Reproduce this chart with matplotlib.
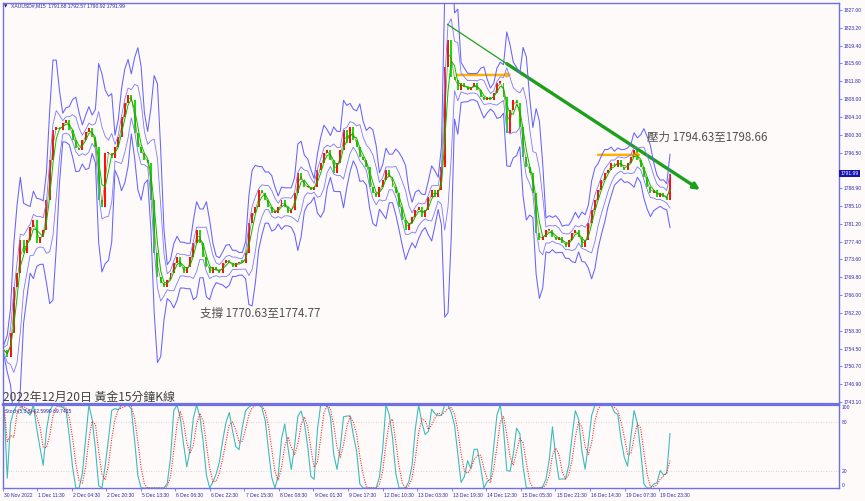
import matplotlib
matplotlib.use("Agg")
import matplotlib.pyplot as plt
import numpy as np
import pandas as pd
from matplotlib.patches import FancyArrowPatch
from matplotlib.transforms import blended_transform_factory, ScaledTranslation

# ---------------- data ----------------
close = [
    1754.2, 1752.7, 1757.9, 1767.7, 1770.7, 1777.8, 1775.0, 1777.8, 1780.6, 1782.1,
    1777.1, 1778.4, 1779.9, 1786.3, 1794.9, 1801.3, 1802.0, 1801.3, 1802.8, 1803.5,
    1801.3, 1799.2, 1797.5, 1797.0, 1799.2, 1800.9, 1801.7, 1799.8, 1797.7, 1786.3,
    1784.8, 1796.4, 1796.4, 1795.3, 1797.7, 1799.8, 1804.1, 1807.1, 1808.8, 1807.7,
    1800.7, 1797.7, 1796.4, 1794.9, 1794.3, 1786.3, 1775.0, 1769.9, 1768.6, 1767.7,
    1769.2, 1770.7, 1772.8, 1774.1, 1772.0, 1770.7, 1772.0, 1774.1, 1777.1, 1779.9,
    1777.1, 1774.1, 1772.0, 1770.7, 1772.0, 1771.3, 1770.7, 1772.8, 1773.5, 1772.8,
    1772.0, 1772.8, 1773.1, 1772.8, 1775.0, 1781.4, 1783.6, 1784.8, 1788.5, 1787.8,
    1786.3, 1784.8, 1783.6, 1783.6, 1784.8, 1786.3, 1784.8, 1783.6, 1784.2, 1787.8,
    1792.1, 1790.6, 1789.1, 1789.1, 1788.5, 1789.1, 1792.8, 1794.3, 1796.4, 1797.0,
    1794.9, 1792.1, 1794.3,
    1797.0, 1801.3, 1798.5, 1802.0, 1799.2, 1797.7, 1795.5, 1794.9, 1793.4, 1789.1,
    1787.8, 1787.0, 1789.1, 1790.6, 1792.8, 1791.3, 1789.1, 1787.8, 1784.8, 1782.1,
    1779.9, 1781.4, 1782.7, 1784.2, 1784.8, 1782.7, 1784.2, 1787.0, 1788.5, 1787.0,
    1788.5, 1793.4,
    1814.8, 1820.6,
    1812.7, 1812.0, 1809.9, 1811.4, 1810.5, 1809.9, 1810.5, 1811.4, 1809.9, 1808.4,
    1807.7, 1808.4, 1807.7, 1809.2, 1811.4, 1811.4, 1808.4,
    1800.7, 1805.6,
    1807.7, 1807.1, 1802.0, 1795.5, 1793.4, 1792.1, 1787.8,
    1779.3, 1777.8,
    1778.4, 1779.9, 1779.9, 1778.4, 1777.8, 1778.4, 1777.1, 1776.3, 1777.8, 1779.3,
    1779.9, 1778.4, 1776.3, 1777.8, 1781.4, 1784.2, 1786.3, 1788.5, 1790.6, 1792.1,
    1792.8, 1794.3, 1793.4, 1794.9, 1793.4, 1792.8, 1794.3, 1795.5, 1797.0, 1794.9,
    1793.4, 1791.3, 1789.1, 1787.8, 1788.5, 1787.0, 1787.8, 1787.0, 1786.3,
    1791.99,
]
first_open = 1754.0

price_ticks = [1827.00, 1823.20, 1819.40, 1815.60, 1811.80, 1808.00, 1804.10,
               1800.30, 1796.50, 1792.70, 1788.90, 1785.10, 1781.20, 1777.40,
               1773.60, 1769.80, 1766.00, 1762.20, 1758.30, 1754.50, 1750.70,
               1746.90, 1743.10]
stoch_ticks = [100, 80, 20, 0]
date_labels = ["30 Nov 2022", "1 Dec 11:30", "2 Dec 04:30", "2 Dec 20:30",
               "5 Dec 13:30", "6 Dec 06:30", "6 Dec 22:30", "7 Dec 15:30",
               "8 Dec 08:30", "9 Dec 01:30", "9 Dec 17:30", "12 Dec 10:30",
               "13 Dec 03:30", "13 Dec 19:30", "14 Dec 12:30", "15 Dec 05:30",
               "15 Dec 21:30", "16 Dec 14:30", "19 Dec 07:30", "19 Dec 23:30"]

header_text = "XAUUSD#,M15  1791.68 1792.57 1790.92 1791.99"
stoch_text = "Stoch(5,3,3) 62.5999 69.7425"
title_text = "2022年12月20日 黃金15分鐘K線"
support_text = "支撐 1770.63至1774.77"
resist_text = "壓力 1794.63至1798.66"
last_price = 1791.99

# annotations (index, price)
trend_start = (135.7, 1824.0)
trend_thick_start = (154.0, 1815.5)
trend_end = (213.2, 1788.5)
orange1 = ((138.7, 1813.1), (155.6, 1813.1))
orange2 = ((182.0, 1796.0), (195.3, 1796.0))
support_pos = (60.0, 1762.1)
resist_pos = (196.9, 1799.8)

# ---------------- derived ----------------
c = pd.Series(close)
o = c.shift(1).fillna(first_open)
n = len(c)
idx = np.arange(n)

bb_mid = c.rolling(4, min_periods=1).mean()
bb_sd = c.rolling(4, min_periods=1).std().fillna(0)
ma_fast = c.rolling(2, min_periods=1).mean()
ma_slow = c.rolling(3, min_periods=1).mean()

hi = pd.concat([c, o], axis=1).max(axis=1)
lo = pd.concat([c, o], axis=1).min(axis=1)
hh = hi.rolling(3, min_periods=1).max()
ll = lo.rolling(3, min_periods=1).min()
num = (c - ll).rolling(3, min_periods=1).sum()
den = (hh - ll).rolling(3, min_periods=1).sum().replace(0, np.nan)
k_line = (100 * num / den).fillna(50)
d_line = k_line.rolling(3, min_periods=1).mean()

# ---------------- figure ----------------
W, H = 865, 501
BG = "#fffafa"
FRAME = "#6f6fe6"
TXT = "#2a2ab0"
fig = plt.figure(figsize=(W / 100, H / 100), dpi=100, facecolor=BG)

px0, px1 = 3, 839
step = (670 - 4) / (n - 1)
def xi(px):
    return (px - 4) / step

ax = fig.add_axes([px0 / W, 1 - 404 / H, (px1 - px0) / W, (404 - 3) / H])
ax2 = fig.add_axes([px0 / W, 1 - 488 / H, (px1 - px0) / W, (488 - 405) / H])

for a in (ax, ax2):
    a.set_facecolor(BG)
    a.set_xlim(xi(px0), xi(px1))
    for s in a.spines.values():
        s.set_color(FRAME)
        s.set_linewidth(1.0)
ax.spines["bottom"].set_linewidth(1.6)
ax2.spines["top"].set_linewidth(1.6)

ax.set_ylim(1742.67, 1828.5)

# bollinger bands
ax.plot(idx, bb_mid + 2.6 * bb_sd + 1.2, color="#6464ff", lw=0.75)
ax.plot(idx, bb_mid - 2.6 * bb_sd - 1.2, color="#6464ff", lw=0.75)
ax.plot(idx, bb_mid + 1.2 * bb_sd + 0.6, color="#7a7aff", lw=0.6)
ax.plot(idx, bb_mid - 1.2 * bb_sd - 0.6, color="#7a7aff", lw=0.6)

# candles
up = c >= o
cols = np.where(up, "#ff1010", "#10e010")
heights = (c - o).values
heights = np.where(np.abs(heights) < 0.3, 0.3, heights)
ax.bar(idx, heights, bottom=o.values, width=0.6, color=cols, linewidth=0)
ax.plot(idx, ma_slow, color="#00c000", lw=0.7)
ax.plot(idx, ma_fast, color="#7a5a00", lw=0.5, alpha=0.8)

# trendline
ax.plot([trend_start[0], trend_thick_start[0]], [trend_start[1], trend_thick_start[1]],
        color="#1aa01a", lw=0.9, solid_capstyle="butt")
ax.add_patch(FancyArrowPatch(trend_thick_start, trend_end, arrowstyle="-|>",
                             mutation_scale=9, color="#1aa01a", lw=2.4,
                             shrinkA=0, shrinkB=0))
for (p0, p1) in (orange1, orange2):
    ax.add_patch(FancyArrowPatch(p0, p1, arrowstyle="-|>", mutation_scale=5,
                                 color="#ffb000", lw=1.8, shrinkA=0, shrinkB=0))

cjk = ["Noto Sans CJK TC", "DejaVu Sans"]
ax.text(*support_pos, support_text, family=cjk, fontsize=8.3, color="#505050",
        ha="left", va="center")
ax.text(*resist_pos, resist_text, family=cjk, fontsize=8.3, color="#505050",
        ha="left", va="center")
fig.text(3 / W, 1 - 397 / H, title_text, family=cjk, fontsize=8.6,
         color="#404040", ha="left", va="center")

small = dict(family="Liberation Sans", fontsize=3.6, color=TXT)
fig.text(4 / W, 1 - 6 / H, "▼", family="DejaVu Sans", fontsize=3.2, color="#101080",
         ha="left", va="center")
fig.text(11 / W, 1 - 6 / H, header_text, ha="left", va="center", **small)
fig.text(5 / W, 1 - 411 / H, stoch_text, ha="left", va="center", **small)

# right price axis (the 1792.70 label sits under the current-price box)
ax.yaxis.tick_right()
ax.set_yticks(price_ticks)
ax.set_yticklabels(["" if abs(v - 1792.70) < 0.01 else f"{v:.2f}" for v in price_ticks])
ax.tick_params(axis="y", direction="out", length=2, width=0.6, color=FRAME,
               pad=1.5, labelsize=3.6, labelcolor=TXT)
for lab in ax.get_yticklabels():
    lab.set_family("Liberation Sans")
ax.set_xticks([])

tr = blended_transform_factory(ax.transAxes, ax.transData)
ax.text(1.002, last_price, f"{last_price:.2f}", transform=tr, color="white",
        fontsize=3.6, family="Liberation Sans", ha="left", va="center",
        bbox=dict(boxstyle="square,pad=0.25", fc="#1414b4", ec="none"))

# stochastic
ax2.set_ylim(0, 100)
ax2.axhline(80, color="#c8c8c8", lw=0.6, ls=(0, (1, 2)))
ax2.axhline(20, color="#c8c8c8", lw=0.6, ls=(0, (1, 2)))
ax2.plot(idx, k_line, color="#3cbcbc", lw=0.8)
ax2.plot(idx, d_line, color="#ff2a2a", lw=0.8, ls=(0, (1, 1.2)))
ax2.yaxis.tick_right()
ax2.set_yticks(stoch_ticks)
ax2.set_yticklabels([str(v) for v in stoch_ticks])
ax2.tick_params(axis="y", direction="out", length=0, pad=2, labelsize=3.6,
                labelcolor=TXT)
for lab, v in zip(ax2.get_yticklabels(), stoch_ticks):
    lab.set_family("Liberation Sans")
    if v == 100:
        lab.set_va("top")
    elif v == 0:
        lab.set_va("bottom")

tick_pos = [max(xi(2.44 + 34.56 * k), xi(px0) + 0.01) for k in range(len(date_labels))]
ax2.set_xticks(tick_pos)
ax2.set_xticklabels(date_labels)
ax2.tick_params(axis="x", direction="out", length=2, width=0.6, color=FRAME,
                pad=1.5, labelsize=3.6, labelcolor=TXT)
off = ScaledTranslation(1.2 / 100, 0, fig.dpi_scale_trans)
for lab in ax2.get_xticklabels():
    lab.set_family("Liberation Sans")
    lab.set_ha("left")
    lab.set_transform(lab.get_transform() + off)

fig.savefig("out.png", dpi=100, facecolor=BG)
